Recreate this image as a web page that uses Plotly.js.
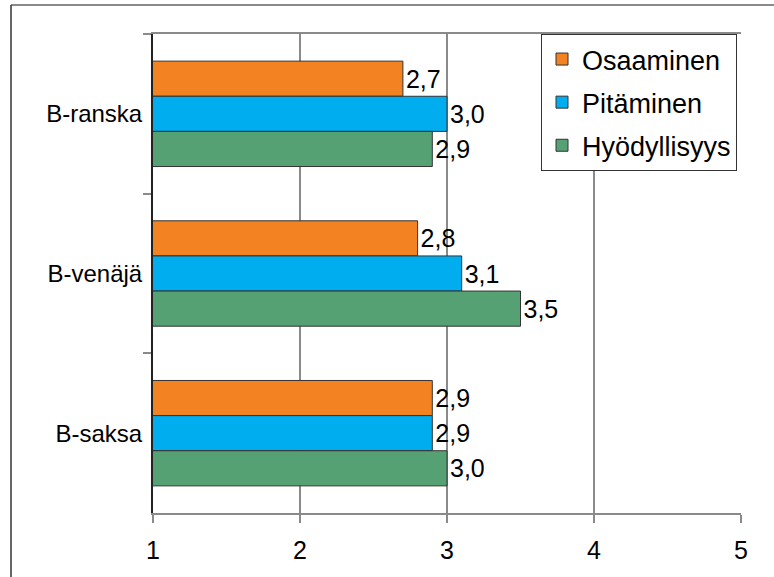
<!DOCTYPE html>
<html>
<head>
<meta charset="utf-8">
<script src="https://cdn.plot.ly/plotly-3.0.1.min.js"></script>
<style>
  html, body { margin: 0; padding: 0; background: #fff; }
  #chart { width: 774px; height: 577px; }
</style>
</head>
<body>
<div id="chart"></div>
<script>
// Kielten arviot: osaaminen, pitäminen ja hyödyllisyys (asteikko 1–5)
const categories = ['B-ranska', 'B-venäjä', 'B-saksa'];
const osaaminen = [2.7, 2.8, 2.9];
const pitaminen = [3.0, 3.1, 2.9];
const hyodyllisyys = [2.9, 3.5, 3.0];
const seriesNames = ['Osaaminen', 'Pitäminen', 'Hyödyllisyys'];
const seriesColors = ['#F28222', '#00AEEF', '#55A174'];
const xTicks = [1, 2, 3, 4, 5];

const FONT = 'Liberation Sans, Arial, sans-serif';
const fmt = v => v.toFixed(1).replace('.', ',');

const seriesValues = [osaaminen, pitaminen, hyodyllisyys];
const traces = seriesValues.map((vals, i) => ({
  type: 'bar',
  orientation: 'h',
  name: seriesNames[i],
  legendgroup: 'g' + i,
  y: categories,
  x: vals,
  text: vals.map(fmt),
  textposition: 'outside',
  cliponaxis: false,
  textfont: { family: FONT, size: 25, color: '#000' },
  marker: { color: seriesColors[i], line: { color: '#333', width: 1 } },
  hoverinfo: 'skip'
}));

const L = 153, R = 33, T = 34, B = 64;
const W = 774, H = 577;
const pw = W - L - R, ph = H - T - B;
const px = x => (x - L) / pw;
const py = y => (H - B - y) / ph;

const layout = {
  width: W, height: H,
  margin: { l: L, r: R, t: T, b: B, pad: 0 },
  paper_bgcolor: '#fff',
  plot_bgcolor: '#fff',
  font: { family: FONT, size: 24, color: '#000' },
  barmode: 'group',
  bargap: 0.34,
  bargroupgap: 0,
  showlegend: true,
  legend: {
    x: px(541), y: 1, xanchor: 'left', yanchor: 'top',
    bgcolor: '#fff', bordercolor: '#333', borderwidth: 1,
    font: { family: FONT, size: 27, color: '#000' },
    tracegroupgap: 5,
    traceorder: 'grouped'
  },
  xaxis: {
    range: [1, 5],
    tickvals: xTicks,
    ticktext: xTicks.map(String),
    tickfont: { family: FONT, size: 25, color: '#000' },
    showgrid: true, gridcolor: '#8a8a8a', gridwidth: 2,
    showline: true, linecolor: '#8a8a8a', linewidth: 2, mirror: true,
    ticks: 'outside', ticklen: 8, tickwidth: 2, tickcolor: '#8a8a8a',
    ticklabelstandoff: 6,
    zeroline: false,
    fixedrange: true
  },
  yaxis: {
    type: 'category',
    categoryorder: 'array',
    categoryarray: categories,
    autorange: 'reversed',
    tickfont: { family: FONT, size: 24, color: '#000' },
    showline: true, linecolor: '#222', linewidth: 2,
    ticks: 'outside', tickson: 'boundaries', ticklen: 8, tickwidth: 2, tickcolor: '#8a8a8a',
    ticklabelstandoff: 4,
    showgrid: false,
    zeroline: false,
    fixedrange: true
  },
  shapes: [
    { type: 'line', xref: 'paper', yref: 'paper', x0: px(11), x1: px(774), y0: py(5), y1: py(5),
      line: { color: '#8a8a8a', width: 2 } },
    { type: 'line', xref: 'paper', yref: 'paper', x0: px(11), x1: px(11), y0: py(5), y1: py(577),
      line: { color: '#333', width: 1.5 } }
  ]
};

Plotly.newPlot('chart', traces, layout, { displayModeBar: false, staticPlot: true });
</script>
</body>
</html>
